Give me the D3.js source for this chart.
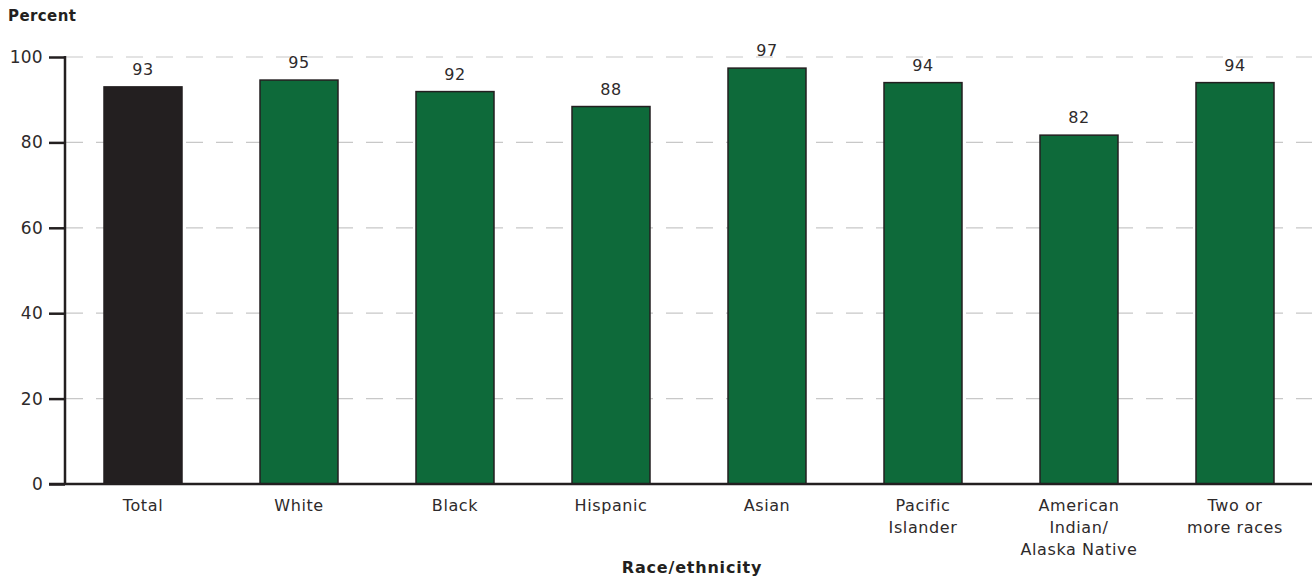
<!DOCTYPE html>
<html><head><meta charset="utf-8">
<script src="https://cdn.jsdelivr.net/npm/d3@7"></script>
<style>body{margin:0;background:#fff;} svg{display:block;font-family:"DejaVu Sans",sans-serif;}</style>
</head><body>
<svg id="c" width="1312" height="584"></svg>
<script>
const categories = ["Total","White","Black","Hispanic","Asian","Pacific Islander","American Indian/ Alaska Native","Two or more races"];
const categoryLines = [["Total"],["White"],["Black"],["Hispanic"],["Asian"],["Pacific","Islander"],["American","Indian/","Alaska Native"],["Two or","more races"]];
const values = [93.0, 94.6, 91.9, 88.4, 97.4, 94.0, 81.7, 94.0];
const valueLabels = ["93","95","92","88","97","94","82","94"];
const yTicks = [0,20,40,60,80,100];

const svg = d3.select("#c");
const dark = "#231f20", green = "#0e6a3a", textc = "#2e2a2b";
const x = d3.scaleBand().domain(categories).range([65, 1313]).paddingInner(0.5).paddingOuter(0.25);
const y = d3.scaleLinear().domain([0,100]).range([484, 57]);

// grid
svg.append("g").selectAll("line").data(yTicks.filter(d=>d>0)).join("line")
  .attr("x1",66).attr("x2",1312).attr("y1",d=>y(d)).attr("y2",d=>y(d))
  .attr("stroke","#c8c8c8").attr("stroke-width",1.2).attr("stroke-dasharray","17,13");

// bars
svg.append("g").selectAll("rect").data(values).join("rect")
  .attr("x",(d,i)=>x(categories[i])).attr("width",x.bandwidth())
  .attr("y",d=>y(d)).attr("height",d=>y(0)-y(d))
  .attr("fill",(d,i)=>i===0?dark:green).attr("stroke",dark).attr("stroke-width",1.5);

// value labels
svg.append("g").selectAll("text").data(values).join("text")
  .attr("x",(d,i)=>x(categories[i])+x.bandwidth()/2).attr("y",d=>y(d)-12)
  .attr("text-anchor","middle").attr("font-size",16).attr("letter-spacing",0.5).attr("fill",textc)
  .text((d,i)=>valueLabels[i]);

// y axis
const ya = d3.axisLeft(y).tickValues(yTicks).tickSize(16).tickPadding(6);
const yg = svg.append("g").attr("transform","translate(65,0)").call(ya);
yg.select(".domain").remove();
yg.selectAll(".tick line").attr("stroke",dark).attr("stroke-width",2.5).attr("x2",-16);
yg.selectAll(".tick text").attr("font-size",17).attr("letter-spacing",0.3).attr("fill",textc).attr("font-family","DejaVu Sans");
svg.append("line").attr("x1",65).attr("x2",65).attr("y1",y(100)-1).attr("y2",y(0)+1).attr("stroke",dark).attr("stroke-width",2.5);
svg.append("line").attr("x1",49).attr("x2",1312).attr("y1",y(0)).attr("y2",y(0)).attr("stroke",dark).attr("stroke-width",2.5);

// x labels
const xl = svg.append("g").selectAll("text").data(categoryLines).join("text")
  .attr("x",(d,i)=>x(categories[i])+x.bandwidth()/2).attr("y",511)
  .attr("text-anchor","middle").attr("font-size",16).attr("letter-spacing",0.6).attr("fill",textc);
xl.selectAll("tspan").data(d=>d).join("tspan")
  .attr("x",function(){return this.parentNode.getAttribute("x");})
  .attr("dy",(d,i)=>i===0?0:22).text(d=>d);

// titles
svg.append("text").attr("x",8).attr("y",21).attr("font-size",15).attr("letter-spacing",0.4).attr("font-weight","bold").attr("fill",dark).text("Percent");
svg.append("text").attr("x",692).attr("y",573).attr("text-anchor","middle").attr("font-size",16).attr("letter-spacing",0.8).attr("font-weight","bold").attr("fill",dark).text("Race/ethnicity");
</script>
</body></html>
